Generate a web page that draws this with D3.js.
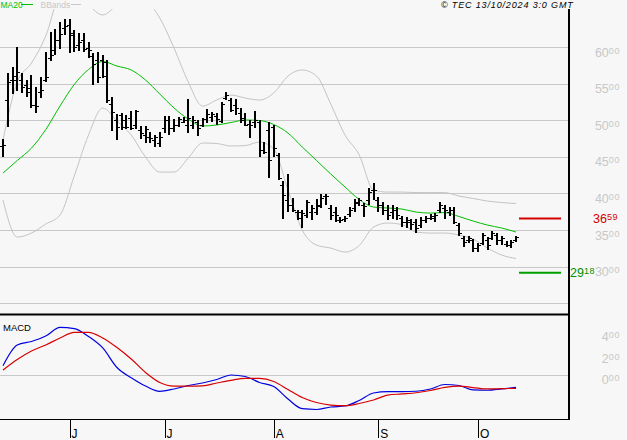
<!DOCTYPE html>
<html><head><meta charset="utf-8">
<script src="https://cdn.jsdelivr.net/npm/d3@7"></script>
<style>
html,body{margin:0;padding:0;background:#f7f7f7;}
svg{display:block;font-family:"Liberation Sans",Arial,sans-serif;}
</style>
</head><body>
<svg id="c" width="627" height="440"></svg>
<script>
// ---- data (daily bars, index 0 .. 108) ----
const opens = [46.48,52.76,55.49,55.49,55.49,54.81,54.4,52.08,53.85,55.49,
58.5,59.59,60.96,62.6,63.0,61.64,60.27,60.96,59.86,58.77,
58.22,58.22,57.95,52.21,50.03,50.71,50.03,50.3,49.35,48.66,
47.98,47.71,47.3,46.89,48.94,50.03,48.94,49.35,49.76,49.35,
49.35,49.76,49.35,50.16,50.44,50.57,49.89,53.03,52.76,52.08,
50.98,50.3,49.48,49.76,49.76,45.93,48.66,49.07,45.25,41.15,
39.1,38.42,37.46,36.64,37.05,37.46,37.46,38.42,39.65,38.01,
37.46,36.37,36.5,37.19,38.01,38.69,38.42,39.1,40.47,39.1,
38.42,37.73,37.46,37.73,36.64,36.09,36.09,36.09,35.68,36.37,
36.64,36.64,37.73,38.01,37.46,37.73,35.68,33.91,33.64,33.64,
32.54,33.23,33.64,33.91,34.32,33.64,33.09,32.95,33.64];
const highs = [47.43,56.45,57.27,60.0,56.45,55.49,56.18,54.54,55.9,59.32,
62.05,62.46,63.41,63.82,63.82,62.32,61.91,61.91,60.68,59.18,
59.32,58.91,58.22,53.17,50.85,50.98,50.71,51.26,51.39,49.21,
49.21,48.39,47.98,48.39,50.57,50.57,50.16,50.44,50.44,52.9,
50.57,50.03,50.3,51.53,51.12,50.98,52.49,53.85,53.03,52.9,
51.67,50.98,50.03,51.26,50.03,47.02,49.76,49.35,45.52,41.7,
42.65,39.37,37.73,37.73,39.1,38.42,39.24,39.92,39.92,38.42,
38.14,36.78,36.91,38.14,39.24,39.37,38.69,40.74,41.42,39.51,
38.83,38.42,38.42,38.14,36.91,36.78,36.5,36.5,36.78,36.91,
37.19,37.32,38.83,38.42,38.14,38.14,35.96,34.18,34.18,33.77,
33.23,34.59,34.05,34.87,34.59,34.18,33.5,33.64,34.18];
const lows = [44.97,49.07,53.58,53.99,53.72,53.17,51.67,50.98,53.03,55.22,
58.09,58.91,59.73,61.64,59.18,59.32,59.45,59.32,58.5,54.81,
55.08,55.77,52.35,48.53,47.3,48.66,48.8,48.66,48.8,47.43,
46.89,46.89,46.34,46.34,48.25,47.98,48.39,49.07,49.62,48.25,
48.8,47.84,49.07,49.62,49.76,49.35,49.62,52.76,51.12,50.71,
49.62,49.21,47.57,48.94,44.97,45.38,42.11,44.97,41.83,36.5,
37.46,37.46,36.37,35.28,36.64,36.37,37.05,38.01,38.42,36.37,
36.09,35.96,36.09,36.78,37.46,38.28,36.78,38.42,39.1,37.46,
37.05,36.37,36.5,36.37,35.41,35.28,35.0,34.59,35.28,35.96,
36.37,36.09,37.32,36.5,36.91,35.82,34.18,32.68,33.23,32.0,
32.0,32.95,32.27,33.64,32.95,32.95,32.68,32.54,33.36];
const closes = [46.61,55.22,56.04,56.58,54.54,53.85,52.08,51.94,54.13,55.9,
58.91,60.96,61.78,62.87,61.91,60.0,60.68,59.73,59.59,57.68,
55.9,56.04,52.76,51.12,49.07,49.07,49.07,48.94,51.26,48.25,
48.8,47.57,47.71,47.71,50.03,48.94,49.35,50.16,50.03,50.3,
50.03,48.94,50.16,50.85,50.85,50.16,52.21,53.44,51.39,51.67,
50.03,49.35,49.35,50.03,45.93,45.66,44.56,46.2,42.11,39.78,
38.42,37.73,37.46,37.32,38.83,38.01,38.28,39.37,39.65,37.05,
37.05,36.37,36.64,37.73,38.83,39.1,38.28,40.19,40.47,38.42,
37.73,37.05,37.73,37.05,36.09,36.37,35.82,35.28,36.37,36.64,
36.91,37.05,38.42,37.73,37.73,36.09,34.59,33.36,33.91,32.54,
32.95,34.32,32.95,34.59,33.64,33.91,32.95,33.36,34.05];

// indicators, read every 3rd bar (bar 0, 3, 6 ... 108)
const indicatorStep = 3;
const ma20 = [42.79,44.50,46.20,48.72,51.94,54.88,56.93,58.02,57.40,56.86,55.49,53.58,51.67,50.16,49.21,49.35,49.69,50.03,49.96,49.41,48.25,46.34,44.50,42.65,40.88,39.17,38.14,38.01,37.87,37.46,37.32,37.39,36.85,36.23,35.68,35.28,34.73];
const bbUpper = [47.30,55.22,57.81,61.50,66.97,67.51,65.74,64.37,65.74,67.10,66.42,63.96,59.86,55.22,51.94,52.76,53.44,53.03,52.76,53.72,56.04,56.86,56.04,52.21,47.98,45.25,40.47,40.19,40.19,40.12,40.12,40.12,39.65,39.31,38.96,38.76,38.62];
const bbLower = [39.10,34.05,34.59,35.82,37.05,42.38,47.98,51.67,49.89,47.98,44.97,42.92,42.92,44.84,46.89,46.82,46.48,46.54,47.02,46.07,40.47,35.00,32.95,32.54,32.00,32.89,35.41,35.96,35.75,34.73,34.59,34.59,34.32,33.77,32.54,31.59,31.11];
const macdLine = [0.88,2.79,3.12,3.62,4.41,4.31,3.58,2.52,0.72,-0.23,-0.99,-1.48,-1.26,-0.94,-0.71,-0.39,0.03,-0.11,-0.66,-1.03,-2.18,-3.08,-3.15,-2.92,-2.83,-2.32,-1.63,-1.51,-1.51,-1.47,-1.26,-0.85,-0.94,-1.35,-1.38,-1.26,-1.11];
const signalLine = [0.49,1.46,2.24,2.79,3.44,3.96,3.96,3.44,2.56,1.50,0.26,-0.66,-0.99,-0.99,-0.97,-0.71,-0.46,-0.28,-0.29,-0.57,-1.31,-2.05,-2.51,-2.74,-2.80,-2.60,-2.28,-1.82,-1.72,-1.61,-1.40,-1.12,-0.99,-1.13,-1.26,-1.23,-1.20];

const monthTickIdx = [14,34,57,79,100];
const monthLabels = ["J","J","A","S","O"];
const priceGrid = [60,55,50,45,40,35,30,25];
const priceLabels = [60,55,50,45,40,35,30];
const macdLabels = [4,2,0];
const resistance = 36.59;
const support = 29.18;
const copyright = "\u00A9 TEC 13/10/2024 3:0 GMT";

// ---- layout ----
const svg = d3.select("#c");
const W = 627, H = 440;
const plotRight = 569;
svg.append("rect").attr("width",W).attr("height",H).attr("fill","#f7f7f7");

const x = d3.scaleLinear().domain([0,108]).range([3,516]);
const y = d3.scaleLinear().domain([25,60]).range([303.3,47]);
const ym = d3.scaleLinear().domain([0,4]).range([375.3,331.9]);

const defs = svg.append("defs");
defs.append("clipPath").attr("id","mainClip").append("rect").attr("x",0).attr("y",9).attr("width",plotRight).attr("height",304);
defs.append("clipPath").attr("id","macdClip").append("rect").attr("x",0).attr("y",316).attr("width",plotRight).attr("height",103);

const GRID = "#c8c8c8";
// grid via axis
const gridG = svg.append("g").attr("transform",`translate(${plotRight},0)`)
  .call(d3.axisLeft(y).tickValues(priceGrid).tickSize(plotRight).tickFormat(""));
gridG.select(".domain").remove();
gridG.selectAll("line").attr("stroke",GRID).attr("shape-rendering","crispEdges");

const mgrid = svg.append("g").attr("transform",`translate(${plotRight},0)`)
  .call(d3.axisLeft(ym).tickValues([0]).tickSize(plotRight).tickFormat(""));
mgrid.select(".domain").remove();
mgrid.selectAll("line").attr("stroke",GRID).attr("shape-rendering","crispEdges");

const main = svg.append("g").attr("clip-path","url(#mainClip)");
const idxX = (d,k) => x(k*indicatorStep);
const lineP = d3.line().x(idxX).y(d=>y(d)).curve(d3.curveMonotoneX);
main.append("path").datum(bbUpper).attr("d",lineP).attr("fill","none").attr("stroke","#c4c4c4").attr("stroke-width",1);
main.append("path").datum(bbLower).attr("d",lineP).attr("fill","none").attr("stroke","#c4c4c4").attr("stroke-width",1);
main.append("path").datum(ma20).attr("d",lineP).attr("fill","none").attr("stroke","#00c000").attr("stroke-width",1);

// OHLC bars
const bars = main.append("g").attr("fill","#000").attr("shape-rendering","crispEdges");
const idx = d3.range(opens.length);
bars.selectAll("rect.hl").data(idx).join("rect").attr("class","hl")
  .attr("x",i=>Math.round(x(i))-1).attr("width",2)
  .attr("y",i=>Math.round(y(highs[i]))).attr("height",i=>Math.max(1,Math.round(y(lows[i]))-Math.round(y(highs[i]))));
bars.selectAll("rect.op").data(idx).join("rect").attr("class","op")
  .attr("x",i=>Math.round(x(i))-3).attr("width",2)
  .attr("y",i=>Math.round(y(opens[i]))).attr("height",1);
bars.selectAll("rect.cl").data(idx).join("rect").attr("class","cl")
  .attr("x",i=>Math.round(x(i))+1).attr("width",2)
  .attr("y",i=>Math.round(y(closes[i]))).attr("height",1);

// resistance / support
svg.append("line").attr("x1",519).attr("x2",561).attr("y1",y(resistance)).attr("y2",y(resistance))
  .attr("stroke","#d40000").attr("stroke-width",2);
svg.append("line").attr("x1",519).attr("x2",561).attr("y1",y(support)).attr("y2",y(support))
  .attr("stroke","#00a000").attr("stroke-width",2);

// MACD
const macdG = svg.append("g").attr("clip-path","url(#macdClip)");
const lineM = d3.line().x(idxX).y(d=>ym(d)).curve(d3.curveMonotoneX);
macdG.append("path").datum(macdLine).attr("d",lineM).attr("fill","none").attr("stroke","#0000e0").attr("stroke-width",1.2);
macdG.append("path").datum(signalLine).attr("d",lineM).attr("fill","none").attr("stroke","#d80000").attr("stroke-width",1.2);

// frame
svg.append("rect").attr("x",0).attr("y",313.5).attr("width",plotRight+1).attr("height",2).attr("fill","#000");
svg.append("rect").attr("x",0).attr("y",419).attr("width",plotRight+1).attr("height",1).attr("fill","#000");
svg.append("rect").attr("x",plotRight-1).attr("y",9).attr("width",2).attr("height",411).attr("fill","#000");

// x axis (month ticks)
const xAxis = svg.append("g").attr("transform","translate(0,420)")
  .call(d3.axisBottom(x).tickValues(monthTickIdx).tickSize(18).tickFormat(""));
xAxis.select(".domain").remove();
xAxis.selectAll("line").attr("stroke","#000").attr("shape-rendering","crispEdges");
svg.append("g").selectAll("text").data(monthTickIdx).join("text")
  .attr("x",d=>x(d)+2).attr("y",437.5).attr("font-size",12).attr("fill","#000")
  .text((d,i)=>monthLabels[i]);

// value labels with small decimals
function splitVal(v){ const s=v.toFixed(2).split("."); return [s[0], s[1]]; }
function valueLabel(g, v, xPos, yPos, color, anchor){
  const [a,b] = splitVal(v);
  const t = g.append("text").attr("x",xPos).attr("y",yPos).attr("fill",color).attr("text-anchor",anchor);
  t.append("tspan").attr("font-size",12.5).text(a);
  t.append("tspan").attr("font-size",9).attr("dy",-3).attr("letter-spacing",0.6).text(b);
  return t;
}
const lab = svg.append("g");
priceLabels.forEach(v => valueLabel(lab, v, 620, y(v)+9.5, "#c8c8c8", "end"));
macdLabels.forEach(v => valueLabel(lab, v, 620, ym(v)+9, "#c8c8c8", "end"));
valueLabel(lab, resistance, 593, y(resistance)+4.5, "#d00000", "start");
valueLabel(lab, support, 570, y(support)+4.5, "#009000", "start");

// header
svg.append("text").attr("x",0.5).attr("y",7.5).attr("font-size",8.5).attr("fill","#00c000").text("MA20");
svg.append("line").attr("x1",21).attr("x2",33).attr("y1",4.5).attr("y2",4.5).attr("stroke","#00c000").attr("stroke-width",1);
svg.append("text").attr("x",40.5).attr("y",7.5).attr("font-size",8.5).attr("fill","#c8c8c8").text("BBands");
svg.append("line").attr("x1",71).attr("x2",81).attr("y1",4.5).attr("y2",4.5).attr("stroke","#c8c8c8").attr("stroke-width",1);
svg.append("text").attr("x",441).attr("y",8).attr("font-size",9).attr("font-style","italic").attr("letter-spacing",0.85).attr("fill","#000").text(copyright);
svg.append("text").attr("x",3).attr("y",331).attr("font-size",9.5).attr("fill","#000").text("MACD");
</script>
</body></html>
